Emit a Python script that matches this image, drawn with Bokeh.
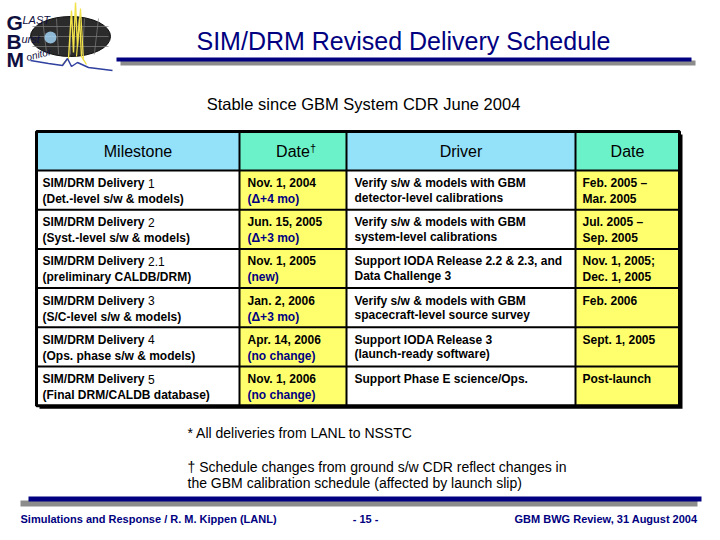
from bokeh.plotting import figure
from bokeh.models import Range1d
from bokeh.core.properties import value
from bokeh.embed import file_html
from bokeh.resources import INLINE

# ---------------- data ----------------
title = "SIM/DRM Revised Delivery Schedule"
subtitle = "Stable since GBM System CDR June 2004"
headers = ["Milestone", "Date", "Driver", "Date"]
milestone_label = "SIM/DRM Delivery"
milestone_num = ["1", "2", "2.1", "3", "4", "5"]
milestone_desc = ["(Det.-level s/w & models)", "(Syst.-level s/w & models)",
                  "(preliminary CALDB/DRM)", "(S/C-level s/w & models)",
                  "(Ops. phase s/w & models)", "(Final DRM/CALDB database)"]
new_date = ["Nov. 1, 2004", "Jun. 15, 2005", "Nov. 1, 2005", "Jan. 2, 2006",
            "Apr. 14, 2006", "Nov. 1, 2006"]
date_change = ["(\u0394+4 mo)", "(\u0394+3 mo)", "(new)", "(\u0394+3 mo)",
               "(no change)", "(no change)"]
driver_l1 = ["Verify s/w & models with GBM", "Verify s/w & models with GBM",
             "Support IODA Release 2.2 & 2.3, and", "Verify s/w & models with GBM",
             "Support IODA Release 3", "Support Phase E science/Ops."]
driver_l2 = ["detector-level calibrations", "system-level calibrations",
             "Data Challenge 3", "spacecraft-level source survey",
             "(launch-ready software)", ""]
driver_date_l1 = ["Feb. 2005 \u2013", "Jul. 2005 \u2013", "Nov. 1, 2005;",
                  "Feb. 2006", "Sept. 1, 2005", "Post-launch"]
driver_date_l2 = ["Mar. 2005", "Sep. 2005", "Dec. 1, 2005", "", "", ""]
footnotes = ["* All deliveries from LANL to NSSTC",
             "\u2020 Schedule changes from ground s/w CDR reflect changes in",
             "the GBM calibration schedule (affected by launch slip)"]
footer_left = "Simulations and Response / R. M. Kippen (LANL)"
footer_mid = "- 15 -"
footer_right = "GBM BWG Review, 31 August 2004"

# ---------------- styles ----------------
FONT = value("Liberation Sans")
NAVY = "#000080"
BLUE = "#94E1FA"
AQUA = "#6CF2C9"
YELLOW = "#FFFF6E"
GREY = "#8C8C8C"

p = figure(width=720, height=540, x_range=Range1d(0, 720), y_range=Range1d(540, 0),
           output_backend="svg", toolbar_location=None,
           x_axis_type=None, y_axis_type=None, min_border=0)
p.outline_line_color = None
p.grid.visible = False
p.background_fill_color = "white"
p.border_fill_color = "white"


def txt(x, y, t, size, color="black", style="normal", align="left", base="middle", angle=0):
    p.text(x=[x], y=[y], text=[t], text_font=FONT, text_font_size=size,
           text_color=color, text_font_style=style, text_align=align,
           text_baseline=base, angle=angle)


# ---------------- logo ----------------
p.ellipse(x=[70], y=[36], width=80, height=40, fill_color="#2b2b2b",
          line_color="#111111", line_width=1)
for dx in (-28, -14, 0, 14, 28):
    p.line(x=[70 + dx, 70 + dx * 0.85], y=[18, 54], line_color="#808080", line_width=0.7)
for dy in (-10, 0, 10):
    p.line(x=[32, 108], y=[36 + dy, 36 + dy], line_color="#808080", line_width=0.7)
p.circle(x=[50], y=[37], radius=6, fill_color="#a8dcff", line_color=None, fill_alpha=0.8)
p.line(x=[62, 68, 71, 73, 75, 77, 79, 81, 86], y=[64, 58, 10, 52, 2, 46, 18, 56, 64],
       line_color="#F2E24A", line_width=1.4)
p.line(x=[76, 80, 83], y=[56, 8, 60], line_color="#F2E24A", line_width=1.2)
p.line(x=[30, 48, 62, 67, 71, 77, 88, 112], y=[60, 63, 65, 58, 66, 62, 67, 70],
       line_color="#3040a0", line_width=1.5)
txt(6, 22, "G", "21px", "#101040", "bold")
txt(6, 41, "B", "21px", "#101040", "bold")
txt(6, 59, "M", "21px", "#101040", "bold")
txt(22, 19, "LAST", "11px", "#101040", "italic")
txt(21, 38, "urst", "11px", "#101040", "italic")
txt(26, 57, "onitor", "10px", "#101040", "italic", angle=0.25)

# ---------------- title ----------------
txt(403, 40, title, "25px", NAVY, "normal", "center")
p.quad(left=[120], right=[695], top=[60], bottom=[65], fill_color=GREY, line_color=None)
p.quad(left=[116], right=[691], top=[57], bottom=[61], fill_color=NAVY, line_color=None)

txt(363, 103, subtitle, "16.5px", "black", "normal", "center")

# ---------------- table ----------------
col_edges = [36, 239, 346, 575, 679]
head_top, head_bot = 131, 170
row_h = 39.2
n = len(milestone_num)
row_tops = [head_bot + i * row_h for i in range(n + 1)]
tbl_bot = row_tops[-1]

# shadow
p.quad(left=[col_edges[0] + 3], right=[col_edges[-1] + 3], top=[head_top + 3],
       bottom=[tbl_bot + 3], fill_color="black", line_color=None)
# header cells
p.quad(left=col_edges[:-1], right=col_edges[1:], top=[head_top] * 4, bottom=[head_bot] * 4,
       fill_color=[BLUE, AQUA, BLUE, AQUA], line_color=None)
# body cells
p.quad(left=col_edges[:-1], right=col_edges[1:], top=[head_bot] * 4, bottom=[tbl_bot] * 4,
       fill_color=["white", YELLOW, "white", YELLOW], line_color=None)
# inner grid
p.segment(x0=col_edges[1:-1], y0=[head_top] * 3, x1=col_edges[1:-1], y1=[tbl_bot] * 3,
          line_color="black", line_width=2)
p.segment(x0=[col_edges[0]] * n, y0=row_tops[:-1], x1=[col_edges[-1]] * n, y1=row_tops[:-1],
          line_color="black", line_width=2)
# outer border
p.quad(left=[col_edges[0]], right=[col_edges[-1]], top=[head_top], bottom=[tbl_bot],
       fill_color=None, line_color="black", line_width=3)

# header text
hy = (head_top + head_bot) / 2
for i, h in enumerate(headers):
    cx = (col_edges[i] + col_edges[i + 1]) / 2
    txt(cx, hy, h, "16px", "black", "normal", "center")
# dagger on first Date header
txt((col_edges[1] + col_edges[2]) / 2 + 17, hy - 3, "\u2020", "11px", "black", "normal", "left")

# body text
for r in range(n):
    y1 = row_tops[r] + 12.5
    y2 = row_tops[r] + 28.5
    x0 = col_edges[0] + 6
    txt(x0, y1, milestone_label, "12px", "black", "bold")
    txt(x0 + 105.5, y1, milestone_num[r], "12px", "black", "normal")
    txt(x0, y2, milestone_desc[r], "12px", "black", "bold")
    x1 = col_edges[1] + 8
    txt(x1, y1, new_date[r], "12px", "black", "bold")
    txt(x1, y2, date_change[r], "12px", NAVY, "bold")
    x2 = col_edges[2] + 8
    txt(x2, y1, driver_l1[r], "12px", "black", "bold")
    txt(x2, y2 - 1.5, driver_l2[r], "12px", "black", "bold")
    x3 = col_edges[3] + 7
    txt(x3, y1, driver_date_l1[r], "12px", "black", "bold")
    txt(x3, y2, driver_date_l2[r], "12px", "black", "bold")

# ---------------- footnotes ----------------
txt(187, 432, footnotes[0], "14px", "black", "normal")
txt(187, 466, footnotes[1], "14px", "black", "normal")
txt(187, 482, footnotes[2], "14px", "black", "normal")

# ---------------- footer ----------------
p.quad(left=[20], right=[697], top=[500], bottom=[506], fill_color=GREY, line_color=None)
p.quad(left=[28], right=[701], top=[496], bottom=[501], fill_color=NAVY, line_color=None)
txt(20, 518, footer_left, "11px", NAVY, "bold")
txt(365, 518, footer_mid, "11px", NAVY, "bold", "center")
txt(697, 518, footer_right, "11px", NAVY, "bold", "right")

open("out.html", "w").write(file_html(p, INLINE))
